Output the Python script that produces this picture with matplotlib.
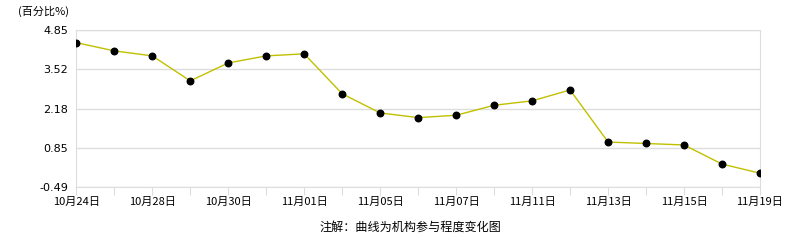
import matplotlib
matplotlib.use("Agg")
import matplotlib.pyplot as plt

plt.rcParams["font.family"] = ["Noto Sans CJK SC", "DejaVu Sans"]

dates = ["10月24日", "10月25日", "10月28日", "10月29日", "10月30日", "10月31日",
         "11月01日", "11月04日", "11月05日", "11月06日", "11月07日", "11月08日",
         "11月11日", "11月12日", "11月13日", "11月14日", "11月15日", "11月18日",
         "11月19日"]
values = [4.43, 4.15, 3.98, 3.13, 3.74, 3.98, 4.05, 2.69, 2.04, 1.88,
          1.96, 2.30, 2.45, 2.82, 1.05, 1.00, 0.95, 0.30, -0.01]
y_ticks = [-0.49, 0.85, 2.18, 3.52, 4.85]

GRID = "#dddddd"

fig = plt.figure(figsize=(7.86, 2.40), dpi=100)
ax = fig.add_axes([76.3 / 786, 1 - 187.3 / 240, (760 - 76.3) / 786, 157 / 240])

x = list(range(len(dates)))
ax.plot(x, values, color="#c0c000", linewidth=1.0, zorder=3)
ax.scatter(x, values, s=22, color="black", zorder=4)

ax.set_xlim(0, len(dates) - 1)
ax.set_ylim(y_ticks[0], y_ticks[-1])
ax.set_yticks(y_ticks)
ax.set_yticklabels([f"{v:.2f}" for v in y_ticks], fontsize=8, family="DejaVu Sans")
ax.set_xticks(x)
ax.set_xticklabels([d if i % 2 == 0 else "" for i, d in enumerate(dates)], fontsize=8)

ax.grid(True, axis="y", color=GRID, linewidth=1.0)
for s in ax.spines.values():
    s.set_color(GRID)
ax.tick_params(axis="x", length=6, color=GRID, pad=1)
ax.tick_params(axis="y", length=0, pad=6)

fig.text(18 / 786, 1 - 11 / 240, "(百分比%)", fontsize=8, va="center", ha="left")
fig.text(410 / 786, 1 - 227 / 240, "注解：曲线为机构参与程度变化图", fontsize=8.7,
         va="center", ha="center")

fig.savefig("out.png", dpi=100)
